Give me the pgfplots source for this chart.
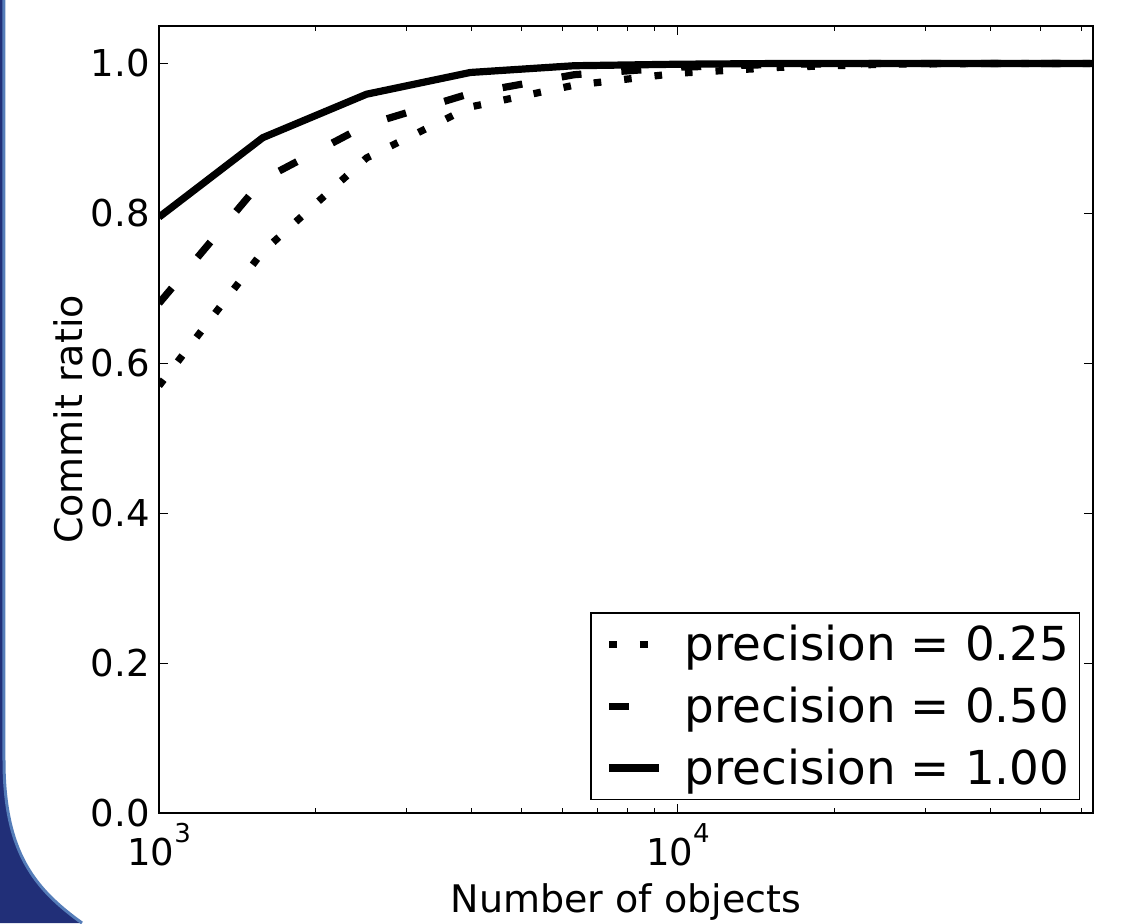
\documentclass[border=0pt]{standalone}
\usepackage{fontspec}
\setmainfont{DejaVu Sans}
\usepackage{pgfplots}
\pgfplotsset{compat=1.18}
\definecolor{slidenavy}{RGB}{33,47,120}
\definecolor{slideedge}{RGB}{85,125,185}

\begin{document}
\begin{tikzpicture}
% page frame: 1125 x 923 px at 0.5pt per px
\useasboundingbox (-79.5pt,-55pt) rectangle (483pt,406.5pt);
\fill[white] (-79.5pt,-55pt) rectangle (483pt,406.5pt);
% slide background strip on the left
\fill[slidenavy] (-79.5pt,406.5pt) -- (-77.5pt,406.5pt) -- (-77.5pt,26.5pt)
  .. controls (-77.5pt,-20pt) and (-62pt,-38pt) .. (-38.5pt,-55pt) -- (-79.5pt,-55pt) -- cycle;
\draw[slideedge, line width=1.5pt] (-77.5pt,406.5pt) -- (-77.5pt,26.5pt)
  .. controls (-77.5pt,-20pt) and (-62pt,-38pt) .. (-38.5pt,-55pt);

\begin{axis}[
    at={(0pt,0pt)}, anchor=south west,
    scale only axis,
    width=467pt, height=393.5pt,
    xmode=log,
    xmin=1000, xmax=63095.7,
    ymin=0, ymax=1.05,
    axis line style={line width=0.8pt},
    tick style={line width=0.5pt, black},
    major tick length=4.5pt,
    minor tick length=2.5pt,
    tick align=inside,
    xtick={1000,10000},
    minor xtick={2000,3000,4000,5000,6000,7000,8000,9000,20000,30000,40000,50000,60000},
    xticklabels={10\raisebox{0.62em}{\fontsize{13}{13}\selectfont 3},10\raisebox{0.62em}{\fontsize{13}{13}\selectfont 4}},
    ytick={0,0.2,0.4,0.6,0.8,1.0},
    tick label style={font=\fontsize{18.5}{22}\selectfont},
    xticklabel style={anchor=base, inner sep=0pt, yshift=-26pt},
    yticklabel style={anchor=east, inner sep=0pt, xshift=-4.5pt,
        /pgf/number format/.cd, fixed, fixed zerofill, precision=1, assume math mode=true},
    xlabel={Number of objects},
    ylabel={Commit ratio},
    label style={font=\fontsize{19}{23}\selectfont},
    xlabel style={at={(axis description cs:0.5,0)}, anchor=base, inner sep=0pt, yshift=-49.5pt},
    ylabel style={at={(axis description cs:0,0.5)}, anchor=center, inner sep=0pt, rotate=0, yshift=45.5pt},
    legend image code/.code={\path (0pt,0pt); \draw[#1, line width=3.6pt] (2.5pt,0pt) -- (27.5pt,0pt);},
    legend style={draw=black, line width=0.75pt, fill=white,
        font=\fontsize{23.4}{28}\selectfont,
        at={(1,0)}, anchor=south east, xshift=-6.5pt, yshift=6.5pt,
        inner xsep=5pt, inner ysep=5pt, row sep=9.6pt,
        nodes={inner xsep=0pt, inner ysep=1pt},
        cells={anchor=west},
        /tikz/every odd column/.append style={column sep=11pt}},
]
% precision = 0.25
\addplot[black, line width=3.6pt, dash pattern=on 3.8pt off 11.5pt] coordinates {
    (1000,0.570) (1584.9,0.749) (2511.9,0.874) (3981.1,0.942) (6309.6,0.971)
    (10000,0.987) (15848.9,0.995) (25118.9,0.999) (39810.7,1.000) (63095.7,1.000)};
\addlegendentry{precision = 0.25}
% precision = 0.50
\addplot[black, line width=3.6pt, dash pattern=on 10pt off 20pt] coordinates {
    (1000,0.680) (1584.9,0.845) (2511.9,0.918) (3981.1,0.960) (6309.6,0.985)
    (10000,0.995) (15848.9,0.999) (25118.9,1.000) (39810.7,1.000) (63095.7,1.000)};
\addlegendentry{precision = 0.50}
% precision = 1.00
\addplot[black, line width=3.6pt] coordinates {
    (1000,0.795) (1584.9,0.901) (2511.9,0.959) (3981.1,0.988) (6309.6,0.997)
    (10000,0.999) (15848.9,1.000) (25118.9,1.000) (39810.7,1.000) (63095.7,1.000)};
\addlegendentry{precision = 1.00}
\end{axis}
\end{tikzpicture}
\end{document}
